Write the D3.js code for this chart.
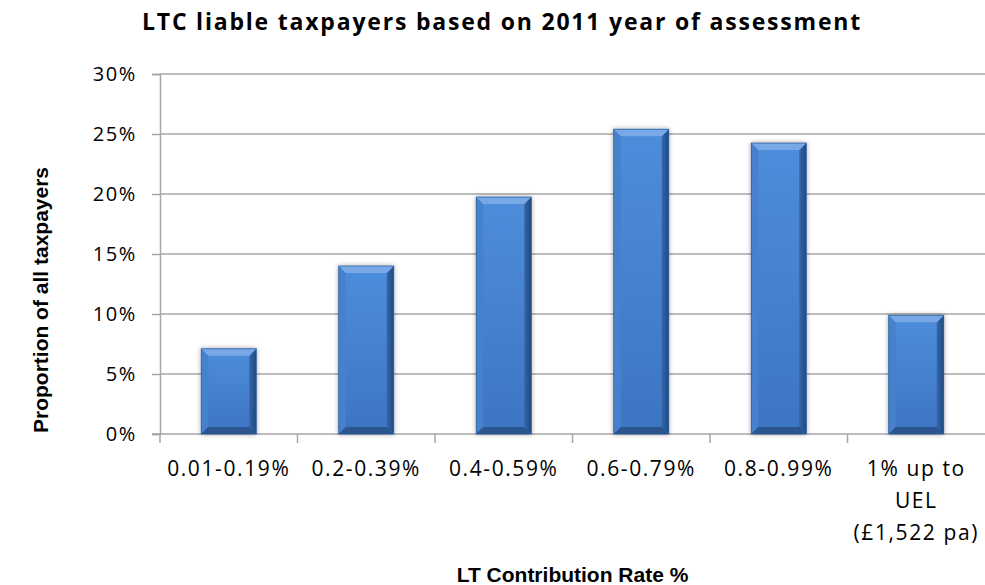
<!DOCTYPE html>
<html>
<head>
<meta charset="utf-8">
<script src="https://cdn.jsdelivr.net/npm/d3@7"></script>
<style>
  body { margin: 0; background: #fff; }
  svg { display: block; }
  .tick-text { font-family: "Open Sans", sans-serif; font-size: 21px; letter-spacing: 1.6px; fill: #000; }
  .ytick-text { font-family: "Open Sans", sans-serif; font-size: 20px; letter-spacing: 1.6px; fill: #000; }
  .title-text { font-family: "Open Sans", sans-serif; font-size: 23px; font-weight: 700; letter-spacing: 1.8px; fill: #000; }
  .axis-title { font-family: "Liberation Sans", Arial, sans-serif; font-size: 21px; font-weight: bold; fill: #000; }
</style>
</head>
<body>
<div id="chart"></div>
<script>
const categories = ["0.01-0.19%", "0.2-0.39%", "0.4-0.59%", "0.6-0.79%", "0.8-0.99%", "1% up to UEL (£1,522 pa)"];
const categoryLines = [["0.01-0.19%"], ["0.2-0.39%"], ["0.4-0.59%"], ["0.6-0.79%"], ["0.8-0.99%"], ["1% up to", "UEL", "(£1,522 pa)"]];
const shares = [7.1, 14.0, 19.75, 25.4, 24.25, 9.9];
const yTicks = [0, 5, 10, 15, 20, 25, 30];

const W = 985, H = 585;
const margin = { top: 74, right: 0, bottom: 151, left: 160 };
const width = W - margin.left - margin.right;
const height = H - margin.top - margin.bottom;

const svg = d3.select("#chart").append("svg")
  .attr("width", W)
  .attr("height", H);

const defs = svg.append("defs");

const face = defs.append("linearGradient")
  .attr("id", "bar-face")
  .attr("x1", "0%").attr("x2", "0%").attr("y1", "0%").attr("y2", "100%");
face.append("stop").attr("offset", "0%").attr("stop-color", "#4d8ddb");
face.append("stop").attr("offset", "100%").attr("stop-color", "#3d75c2");

const side = defs.append("linearGradient")
  .attr("id", "bar-right")
  .attr("x1", "0%").attr("x2", "100%").attr("y1", "0%").attr("y2", "0%");
side.append("stop").attr("offset", "0%").attr("stop-color", "#3466a8");
side.append("stop").attr("offset", "100%").attr("stop-color", "#1f4a80");

const shadow = defs.append("filter")
  .attr("id", "bar-shadow")
  .attr("x", "-20%").attr("y", "-10%").attr("width", "140%").attr("height", "120%");
shadow.append("feGaussianBlur").attr("in", "SourceAlpha").attr("stdDeviation", 2.5).attr("result", "blur");
shadow.append("feComponentTransfer").append("feFuncA").attr("type", "linear").attr("slope", 0.35);
const merge = shadow.append("feMerge");
merge.append("feMergeNode");
merge.append("feMergeNode").attr("in", "SourceGraphic");

const g = svg.append("g")
  .attr("transform", `translate(${margin.left},${margin.top})`);

const x = d3.scaleBand().domain(categories).range([0, width]).paddingInner(0.6).paddingOuter(0.3);
const xTicks = d3.scaleBand().domain(categories).range([0, width]);
const y = d3.scaleLinear().domain([0, 30]).range([height, 0]);

// gridlines
g.append("g")
  .selectAll("line")
  .data(yTicks.filter(d => d > 0))
  .enter().append("line")
  .attr("x1", 0).attr("x2", width)
  .attr("y1", d => y(d)).attr("y2", d => y(d))
  .attr("stroke", "#a6a6a6")
  .attr("stroke-width", 1.5);

// y axis
const yAxis = g.append("g")
  .call(d3.axisLeft(y).tickValues(yTicks).tickFormat(d => d + "%").tickSize(8).tickPadding(15));
yAxis.selectAll("line, path").attr("stroke", "#a6a6a6").attr("stroke-width", 1.5);
yAxis.selectAll("text").attr("class", "ytick-text").attr("font-size", null).attr("font-family", null);

// x axis line + ticks at band edges
const xg = g.append("g").attr("transform", `translate(0,${height})`);
xg.append("line").attr("x1", -8).attr("x2", width).attr("stroke", "#a6a6a6").attr("stroke-width", 1.5);
xg.selectAll(".xtick")
  .data(categories)
  .enter().append("line")
  .attr("class", "xtick")
  .attr("x1", d => xTicks(d)).attr("x2", d => xTicks(d))
  .attr("y1", 0).attr("y2", 9)
  .attr("stroke", "#a6a6a6").attr("stroke-width", 1.5);

// bars
const bars = g.selectAll(".bar")
  .data(categories.map((c, i) => ({ c, v: shares[i] })))
  .enter().append("g")
  .attr("class", "bar")
  .attr("filter", "url(#bar-shadow)");

const b = 7;
bars.each(function (d) {
  const bx = x(d.c), bw = x.bandwidth();
  const by = y(d.v), bh = y(0) - y(d.v);
  const el = d3.select(this);
  el.append("rect").attr("x", bx).attr("y", by).attr("width", bw).attr("height", bh).attr("fill", "url(#bar-face)");
  const pts = a => a.map(p => p.join(",")).join(" ");
  // left edge
  el.append("polygon").attr("points", pts([[bx, by], [bx + b, by + b], [bx + b, by + bh - b], [bx, by + bh]]))
    .attr("fill", "#4680cc");
  // right edge
  el.append("polygon").attr("points", pts([[bx + bw, by], [bx + bw - b, by + b], [bx + bw - b, by + bh - b], [bx + bw, by + bh]]))
    .attr("fill", "url(#bar-right)");
  // top bevel
  el.append("polygon").attr("points", pts([[bx, by], [bx + bw, by], [bx + bw - b, by + b], [bx + b, by + b]]))
    .attr("fill", "#78a9e6");
  // bottom bevel
  el.append("polygon").attr("points", pts([[bx, by + bh], [bx + bw, by + bh], [bx + bw - b, by + bh - b], [bx + b, by + bh - b]]))
    .attr("fill", "#29558f");
  el.append("rect").attr("x", bx).attr("y", by).attr("width", bw).attr("height", bh)
    .attr("fill", "none").attr("stroke", "#2e5d9c").attr("stroke-width", 0.8);
});

// category labels
const labels = g.append("g").attr("transform", `translate(0,${height})`);
categoryLines.forEach((lines, i) => {
  const cx = xTicks(categories[i]) + xTicks.bandwidth() / 2;
  const t = labels.append("text")
    .attr("class", "tick-text")
    .attr("text-anchor", "middle")
    .attr("x", cx);
  lines.forEach((ln, j) => {
    t.append("tspan")
      .attr("x", cx)
      .attr("y", 42 + j * 32)
      .text(ln);
  });
});

// titles
svg.append("text")
  .attr("class", "title-text")
  .attr("x", 502)
  .attr("y", 30)
  .attr("text-anchor", "middle")
  .text("LTC liable taxpayers based on 2011 year of assessment");

svg.append("text")
  .attr("class", "axis-title")
  .attr("transform", "rotate(-90)")
  .attr("x", -300)
  .attr("y", 48)
  .attr("text-anchor", "middle")
  .text("Proportion of all taxpayers");

svg.append("text")
  .attr("class", "axis-title")
  .attr("x", margin.left + width / 2)
  .attr("y", 582)
  .attr("text-anchor", "middle")
  .text("LT Contribution Rate %");
</script>
</body>
</html>
